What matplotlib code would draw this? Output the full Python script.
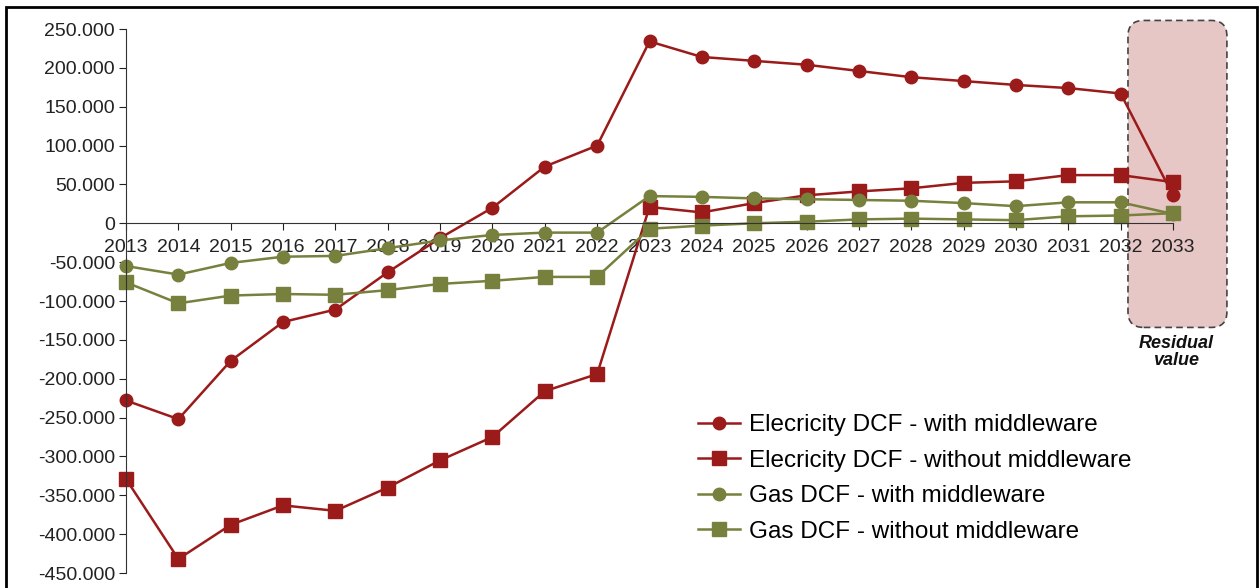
import numpy as np
import matplotlib.pyplot as plt
from matplotlib.patches import FancyBboxPatch, Rectangle
from matplotlib.ticker import FuncFormatter

plt.rcParams['font.family'] = ['Liberation Sans', 'DejaVu Sans']

years = list(range(2013, 2034))

elec_with = [-228000, -252000, -177000, -127000, -111000, -63000, -19000, 20000, 73000, 100000,
             234000, 214000, 209000, 204000, 196000, 188000, 183000, 178000, 174000, 167000, 36000]
elec_without = [-329000, -432000, -388000, -363000, -370000, -340000, -305000, -275000, -216000, -194000,
                21000, 14000, 26000, 36000, 41000, 45000, 52000, 54000, 62000, 62000, 53000]
gas_with = [-55000, -66000, -51000, -43000, -42000, -32000, -22000, -15000, -12000, -12000,
            35000, 34000, 32000, 31000, 30000, 29000, 26000, 22000, 27000, 27000, 12000]
gas_without = [-76000, -103000, -93000, -91000, -92000, -86000, -78000, -74000, -69000, -69000,
               -7000, -3000, 0, 2000, 5000, 6000, 5000, 4000, 9000, 10000, 13000]

red = '#9b1a1a'
olive = '#77803c'

fig = plt.figure(figsize=(12.6, 5.88), dpi=100)
ax = fig.add_axes([126 / 1260, 15 / 588, (1173 - 126) / 1260, (559 - 15) / 588])

# residual value box behind the last year
box = FancyBboxPatch((2032.14, -134000), 1.89, 395000,
                     boxstyle='round,pad=0,rounding_size=0.3', mutation_aspect=67400,
                     facecolor='#e7c6c6', edgecolor='#444444', linestyle=(0, (4, 2.5)),
                     linewidth=1.2, clip_on=False, zorder=0)
ax.add_patch(box)
ax.text(2033.06, -144000, 'Residual\nvalue', ha='center', va='top', fontsize=13,
        fontweight='bold', style='italic', linespacing=1.0, color='#111111')

ax.plot(years, elec_with, color=red, lw=1.8, marker='o', ms=9, label='Elecricity DCF - with middleware', clip_on=False)
ax.plot(years, elec_without, color=red, lw=1.8, marker='s', ms=9.5, label='Elecricity DCF - without middleware', clip_on=False)
ax.plot(years, gas_with, color=olive, lw=1.8, marker='o', ms=9, label='Gas DCF - with middleware', clip_on=False)
ax.plot(years, gas_without, color=olive, lw=1.8, marker='s', ms=9.5, label='Gas DCF - without middleware', clip_on=False)

ax.set_xlim(2013, 2033)
ax.set_ylim(-450000, 250000)
ax.set_xticks(years)
ax.set_yticks(np.arange(-450000, 250001, 50000))
ax.yaxis.set_major_formatter(FuncFormatter(lambda v, p: f'{int(v):,}'.replace(',', '.')))

ax.spines['top'].set_visible(False)
ax.spines['right'].set_visible(False)
ax.spines['bottom'].set_position(('data', 0))
ax.spines['left'].set_color('#333333')
ax.spines['bottom'].set_color('#333333')
ax.tick_params(axis='y', direction='out', length=5, labelsize=14, pad=3, colors='#222222')
ax.tick_params(axis='x', direction='out', length=5, labelsize=14, pad=6, colors='#222222')
ax.patch.set_visible(False)

ax.legend(loc='upper left', bbox_to_anchor=(0.537, 0.31), frameon=False, fontsize=17.5,
          handlelength=1.75, handletextpad=0.35, labelspacing=0.56, borderaxespad=0)

# outer frame
fig.patches.append(Rectangle((6 / 1260, -0.05), 1251 / 1260, 1.038, transform=fig.transFigure,
                             fill=False, edgecolor='black', linewidth=2))

plt.savefig('out.png')
